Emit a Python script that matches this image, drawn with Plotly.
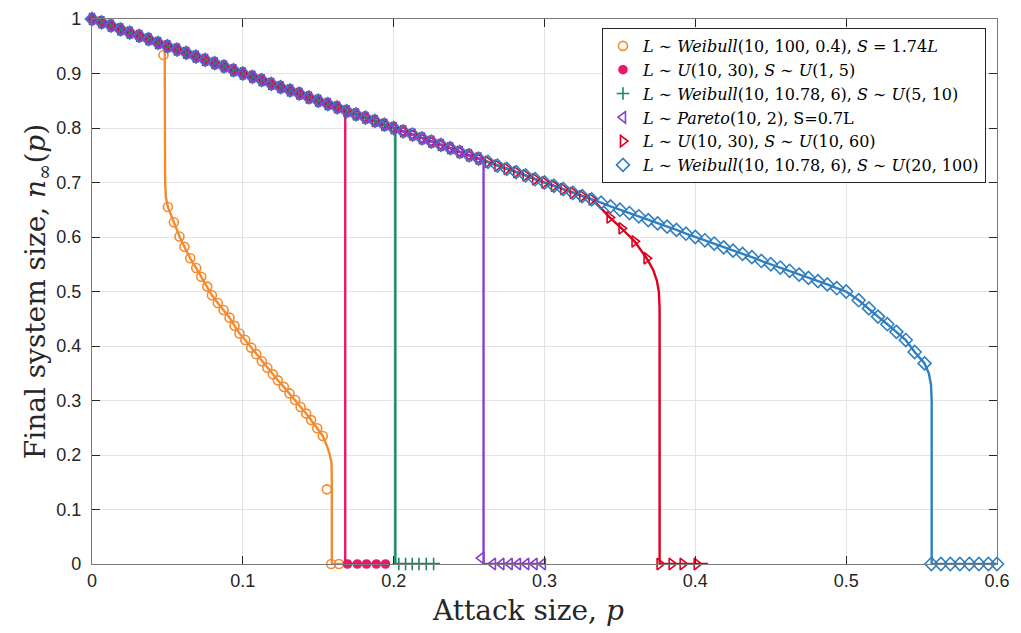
import plotly.graph_objects as go

# ---- shared attack-size grid and the common (pre-collapse) branch ----
COMMON_P = [0.0000, 0.0063, 0.0125, 0.0188, 0.0250, 0.0313, 0.0375, 0.0438, 0.0500, 0.0563,
            0.0625, 0.0688, 0.0750, 0.0813, 0.0875, 0.0938, 0.1000, 0.1063, 0.1125, 0.1188,
            0.1250, 0.1313, 0.1375, 0.1438, 0.1500, 0.1563, 0.1625, 0.1688, 0.1750, 0.1813,
            0.1875, 0.1938, 0.2000, 0.2063, 0.2125, 0.2188, 0.2250, 0.2313, 0.2375, 0.2438,
            0.2500, 0.2563, 0.2625, 0.2688, 0.2750, 0.2813, 0.2875, 0.2938, 0.3000, 0.3063,
            0.3125, 0.3188, 0.3250, 0.3313, 0.3375, 0.3438, 0.3500, 0.3563, 0.3625, 0.3688,
            0.3750, 0.3813, 0.3875, 0.3938, 0.4000, 0.4063, 0.4125, 0.4188, 0.4250, 0.4313,
            0.4375, 0.4438, 0.4500, 0.4563, 0.4625, 0.4688, 0.4750, 0.4813, 0.4875, 0.4938,
            0.5000]
COMMON_N = [1.000, 0.994, 0.988, 0.981, 0.975, 0.969, 0.963, 0.956, 0.950, 0.944,
            0.938, 0.931, 0.925, 0.919, 0.913, 0.906, 0.900, 0.894, 0.888, 0.881,
            0.875, 0.869, 0.863, 0.856, 0.850, 0.844, 0.838, 0.831, 0.825, 0.819,
            0.813, 0.806, 0.800, 0.794, 0.788, 0.781, 0.775, 0.769, 0.763, 0.756,
            0.750, 0.744, 0.738, 0.731, 0.725, 0.719, 0.713, 0.706, 0.700, 0.694,
            0.688, 0.681, 0.675, 0.669, 0.663, 0.656, 0.650, 0.644, 0.638, 0.631,
            0.625, 0.619, 0.613, 0.606, 0.600, 0.594, 0.588, 0.581, 0.575, 0.569,
            0.563, 0.556, 0.550, 0.544, 0.538, 0.531, 0.525, 0.519, 0.513, 0.506,
            0.500]

# ---- orange: L ~ Weibull(10,100,0.4), S = 1.74L ----
ORANGE_TAIL_P = [0.0503, 0.0543, 0.0580, 0.0613, 0.0651, 0.0691, 0.0724, 0.0764, 0.0795, 0.0834,
                 0.0872, 0.0912, 0.0945, 0.0978, 0.1016, 0.1056, 0.1089, 0.1126, 0.1162, 0.1199,
                 0.1232, 0.1272, 0.1310, 0.1347, 0.1383, 0.1420, 0.1453, 0.1493, 0.1530]
ORANGE_TAIL_N = [0.655, 0.627, 0.601, 0.582, 0.561, 0.543, 0.527, 0.509, 0.493, 0.479,
                 0.466, 0.452, 0.437, 0.423, 0.411, 0.397, 0.385, 0.372, 0.360, 0.348,
                 0.337, 0.325, 0.313, 0.301, 0.288, 0.276, 0.264, 0.249, 0.235]
ORANGE_LINE_P = COMMON_P[:8] + [0.0482, 0.0485, 0.0490] + ORANGE_TAIL_P + [0.1560, 0.1577, 0.1588, 0.1590, 0.1590, 0.1660]
ORANGE_LINE_N = COMMON_N[:8] + [0.952, 0.700, 0.672] + ORANGE_TAIL_N + [0.215, 0.200, 0.185, 0.150, 0.000, 0.000]
ORANGE_MARK_P = COMMON_P[:7] + [0.0474] + ORANGE_TAIL_P + [0.1557, 0.1586, 0.1637]
ORANGE_MARK_N = COMMON_N[:7] + [0.934] + ORANGE_TAIL_N + [0.137, 0.000, 0.000]

# ---- pink: L ~ U(10,30), S ~ U(1,5) ----
PINK_LINE_P = COMMON_P[:27] + [0.1679, 0.1679, 0.1946]
PINK_LINE_N = COMMON_N[:27] + [0.832, 0.000, 0.000]
PINK_MARK_P = COMMON_P[:27] + [0.1694, 0.1759, 0.1820, 0.1885, 0.1946]
PINK_MARK_N = COMMON_N[:27] + [0.000, 0.000, 0.000, 0.000, 0.000]

# ---- green: L ~ Weibull(10,10.78,6), S ~ U(5,10) ----
GREEN_LINE_P = COMMON_P[:33] + [0.2011, 0.2011, 0.2308]
GREEN_LINE_N = COMMON_N[:33] + [0.799, 0.000, 0.000]
GREEN_MARK_P = COMMON_P[:33] + [0.2034, 0.2079, 0.2123, 0.2168, 0.2216, 0.2265]
GREEN_MARK_N = COMMON_N[:33] + [0.000, 0.000, 0.000, 0.000, 0.000, 0.000]

# ---- purple: L ~ Pareto(10,2), S = 0.7L ----
PURPLE_LINE_P = COMMON_P[:42] + [0.2596, 0.2596, 0.3000]
PURPLE_LINE_N = COMMON_N[:42] + [0.740, 0.000, 0.000]
PURPLE_MARK_P = COMMON_P[:42] + [0.2581, 0.2658, 0.2714, 0.2769, 0.2824, 0.2879, 0.2934, 0.2989]
PURPLE_MARK_N = COMMON_N[:42] + [0.011, 0.000, 0.000, 0.000, 0.000, 0.000, 0.000, 0.000]

# ---- red: L ~ U(10,30), S ~ U(10,60) ----
RED_TAIL_P = [0.3432, 0.3511, 0.3597, 0.3677]
RED_TAIL_N = [0.636, 0.616, 0.592, 0.561]
RED_LINE_P = COMMON_P[:54] + [0.3350] + RED_TAIL_P + [0.3720, 0.3745, 0.3758, 0.3763, 0.3763, 0.4085]
RED_LINE_N = COMMON_N[:54] + [0.660] + RED_TAIL_N + [0.540, 0.520, 0.500, 0.470, 0.000, 0.000]
RED_MARK_P = COMMON_P[:54] + RED_TAIL_P + [0.3763, 0.3843, 0.3916, 0.4009]
RED_MARK_N = COMMON_N[:54] + RED_TAIL_N + [0.000, 0.000, 0.000, 0.000]

# ---- blue: L ~ Weibull(10,10.78,6), S ~ U(20,100) ----
BLUE_TAIL_P = [0.5083, 0.5151, 0.5211, 0.5273, 0.5333, 0.5395, 0.5454, 0.5520]
BLUE_TAIL_N = [0.484, 0.469, 0.454, 0.440, 0.426, 0.411, 0.389, 0.368]
BLUE_LINE_P = COMMON_P + BLUE_TAIL_P + [0.5548, 0.5562, 0.5567, 0.5567, 0.6000]
BLUE_LINE_N = COMMON_N + BLUE_TAIL_N + [0.350, 0.330, 0.300, 0.000, 0.000]
BLUE_MARK_P = COMMON_P + BLUE_TAIL_P + [0.5565, 0.5628, 0.5691, 0.5754, 0.5817, 0.5880, 0.5943, 0.6000]
BLUE_MARK_N = COMMON_N + BLUE_TAIL_N + [0.000, 0.000, 0.000, 0.000, 0.000, 0.000, 0.000, 0.000]

X_TICKS = [0, 0.1, 0.2, 0.3, 0.4, 0.5, 0.6]
X_TICK_LABELS = ["0", "0.1", "0.2", "0.3", "0.4", "0.5", "0.6"]
Y_TICKS = [0, 0.1, 0.2, 0.3, 0.4, 0.5, 0.6, 0.7, 0.8, 0.9, 1]
Y_TICK_LABELS = ["0", "0.1", "0.2", "0.3", "0.4", "0.5", "0.6", "0.7", "0.8", "0.9", "1"]

ORANGE, PINK, GREEN, PURPLE, RED, BLUE = "#F58A2F", "#E8176A", "#1A8A5C", "#8A3FCB", "#E0001E", "#2F7FC1"

series = [
    dict(name="<i>L</i> ∼ <i>Weibull</i>(10, 100, 0.4), <i>S</i> = 1.74<i>L</i>", color=ORANGE,
         lp=ORANGE_LINE_P, ln=ORANGE_LINE_N, mp=ORANGE_MARK_P, mn=ORANGE_MARK_N,
         symbol="circle-open", size=9, rank=1),
    dict(name="<i>L</i> ∼ <i>U</i>(10, 30), <i>S</i> ∼ <i>U</i>(1, 5)", color=PINK,
         lp=PINK_LINE_P, ln=PINK_LINE_N, mp=PINK_MARK_P, mn=PINK_MARK_N,
         symbol="circle", size=8, rank=2),
    dict(name="<i>L</i> ∼ <i>Weibull</i>(10, 10.78, 6), <i>S</i> ∼ <i>U</i>(5, 10)", color=GREEN,
         lp=GREEN_LINE_P, ln=GREEN_LINE_N, mp=GREEN_MARK_P, mn=GREEN_MARK_N,
         symbol="cross-thin-open", size=9, rank=3),
    dict(name="<i>L</i> ∼ <i>U</i>(10, 30), <i>S</i> ∼ <i>U</i>(10, 60)", color=RED,
         lp=RED_LINE_P, ln=RED_LINE_N, mp=RED_MARK_P, mn=RED_MARK_N,
         symbol="triangle-right-open", size=10, rank=5),
    dict(name="<i>L</i> ∼ <i>Weibull</i>(10, 10.78, 6), <i>S</i> ∼ <i>U</i>(20, 100)", color=BLUE,
         lp=BLUE_LINE_P, ln=BLUE_LINE_N, mp=BLUE_MARK_P, mn=BLUE_MARK_N,
         symbol="diamond-open", size=10, rank=6),
    dict(name="<i>L</i> ∼ <i>Pareto</i>(10, 2), S=0.7L", color=PURPLE,
         lp=PURPLE_LINE_P, ln=PURPLE_LINE_N, mp=PURPLE_MARK_P, mn=PURPLE_MARK_N,
         symbol="triangle-left-open", size=10, rank=4),
]

fig = go.Figure()
for s in series:
    fig.add_trace(go.Scatter(x=s["lp"], y=s["ln"], mode="lines", showlegend=False,
                             line=dict(color=s["color"], width=2.4), cliponaxis=False,
                             hoverinfo="skip"))
for s in series:
    fig.add_trace(go.Scatter(x=s["mp"], y=s["mn"], mode="markers", name=s["name"],
                             legendrank=s["rank"], cliponaxis=False,
                             marker=dict(symbol=s["symbol"], size=s["size"], color=s["color"],
                                         line=dict(color=s["color"], width=1.6))))

axis_common = dict(showgrid=True, gridcolor="#e3e3e3", gridwidth=1, zeroline=False,
                   showline=True, linecolor="#7a7a7a", linewidth=1.3, mirror="ticks",
                   ticks="inside", ticklen=8, tickwidth=1, tickcolor="#262626",
                   automargin=False,
                   tickfont=dict(family="Liberation Sans, Arial, sans-serif", size=18, color="#262626"))

title_font = dict(family="DejaVu Serif, serif", size=28, color="#262626")

fig.update_layout(
    width=1013, height=625,
    margin=dict(l=84, r=24, t=11, b=69),
    paper_bgcolor="white", plot_bgcolor="white",
    xaxis=dict(range=[0, 0.6], tickvals=X_TICKS, ticktext=X_TICK_LABELS, **axis_common),
    yaxis=dict(range=[0, 1], tickvals=Y_TICKS, ticktext=Y_TICK_LABELS,
               ticklabelstandoff=6,
               title=dict(text="Final system size, <i>n</i><sub>∞</sub>(<i>p</i>)", standoff=2,
                          font=title_font),
               **axis_common),
    annotations=[dict(text="Attack size, <i>p</i>", xref="paper", yref="paper",
                      x=0.482, y=-0.0862, xanchor="center", yanchor="middle",
                      showarrow=False, font=dict(family="DejaVu Serif, serif", size=28, color="#262626"))],
    legend=dict(x=0.5635, y=0.9835, xanchor="left", yanchor="top",
                bgcolor="white", bordercolor="#262626", borderwidth=1,
                font=dict(family="DejaVu Serif, serif", size=16, color="#000000"),
                tracegroupgap=0, itemwidth=30),
)

fig.write_html("out.html")
